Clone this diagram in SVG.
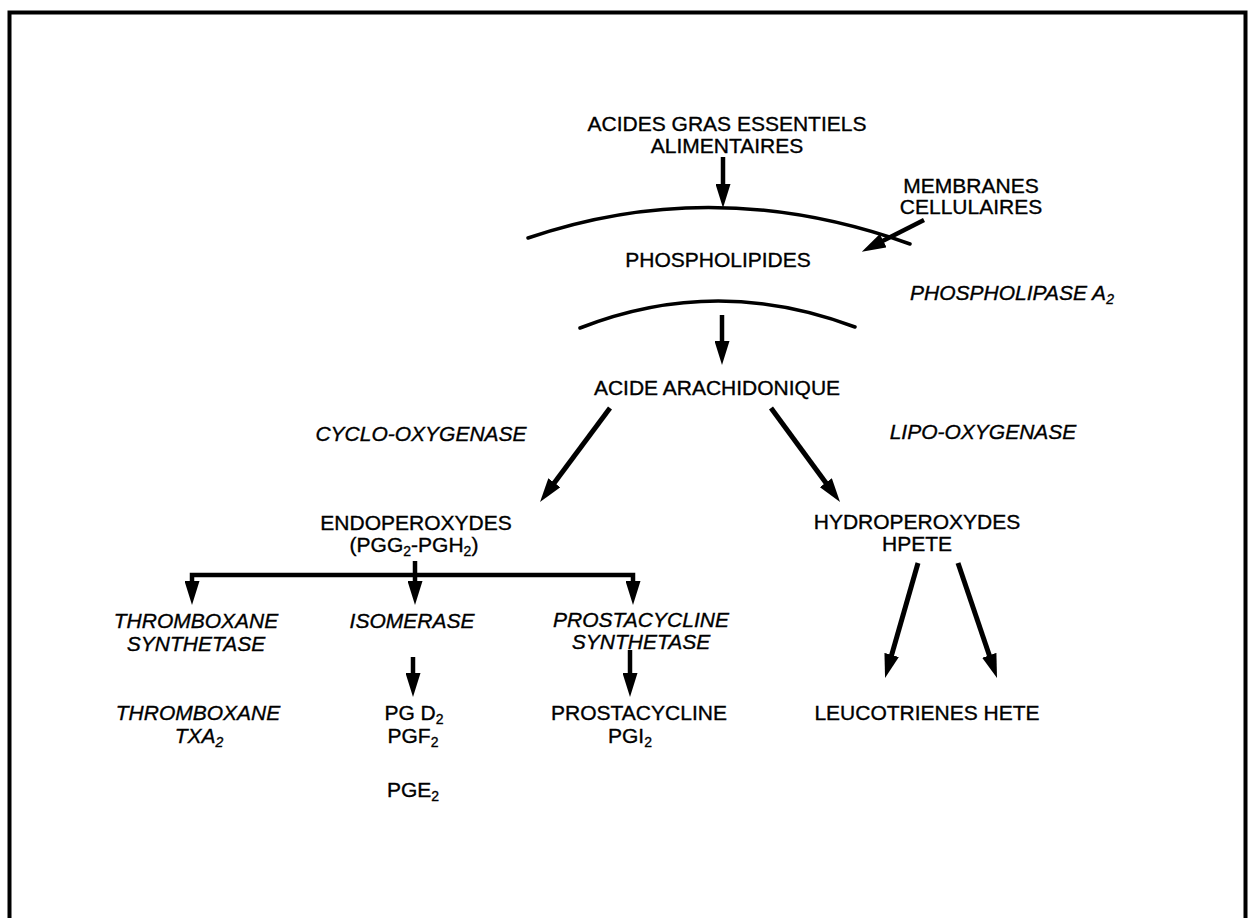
<svg xmlns="http://www.w3.org/2000/svg" width="1249" height="918" viewBox="0 0 1249 918">
<style>
text{font-family:"Liberation Sans",Arial,sans-serif;font-size:21px;fill:#000;stroke:#000;stroke-width:0.35;text-anchor:middle}
.it{font-style:italic}
.sub{font-size:14px}
.ln{fill:none;stroke:#000;stroke-width:4.5}
.dg{fill:none;stroke:#000;stroke-width:5}
.arc{fill:none;stroke:#000;stroke-width:3.5;stroke-linecap:round}
</style>
<defs>
<marker id="ah" viewBox="0 0 24 15" refX="14" refY="7.5" markerWidth="24" markerHeight="15" markerUnits="userSpaceOnUse" orient="auto-start-reverse">
<path d="M0,0 L24,7.5 L0,15 Z" fill="#000"/>
</marker>
</defs>
<rect width="1249" height="918" fill="#fff"/>
<path d="M9.5,925 V12.5 H1245.5 V925" fill="none" stroke="#000" stroke-width="4"/>

<g id="membranes-arcs">
<path class="arc" d="M528,238 Q715,174 910,244"/>
<path class="arc" d="M580,328 Q716.5,274.5 855,327"/>
</g>

<g id="connectors">
<line class="ln" x1="723" y1="157" x2="723" y2="198" marker-end="url(#ah)"/>
<line class="ln" x1="924" y1="220" x2="870.7" y2="247.1" marker-end="url(#ah)"/>
<line class="ln" x1="722" y1="315" x2="722" y2="355" marker-end="url(#ah)"/>
<line class="dg" x1="610" y1="408" x2="546" y2="494" marker-end="url(#ah)"/>
<line class="dg" x1="771" y1="408" x2="834.1" y2="493.9" marker-end="url(#ah)"/>
<path class="ln" d="M192,595 V575 H633 V595" marker-start="url(#ah)" marker-end="url(#ah)"/>
<line class="ln" x1="415" y1="561" x2="415" y2="595" marker-end="url(#ah)"/>
<line class="ln" x1="413" y1="657" x2="413" y2="687" marker-end="url(#ah)"/>
<line class="ln" x1="630" y1="650" x2="630" y2="687" marker-end="url(#ah)"/>
<line class="dg" x1="918" y1="563" x2="887.8" y2="668.4" marker-end="url(#ah)"/>
<line class="dg" x1="958" y1="563" x2="993.8" y2="668.5" marker-end="url(#ah)"/>
</g>

<g id="acides-gras">
<text x="727" y="131">ACIDES GRAS ESSENTIELS</text>
<text x="727" y="153">ALIMENTAIRES</text>
</g>
<g id="membranes-cellulaires">
<text x="971" y="193">MEMBRANES</text>
<text x="971" y="214">CELLULAIRES</text>
</g>
<g id="phospholipides">
<text x="718" y="267">PHOSPHOLIPIDES</text>
</g>
<g id="phospholipase">
<text class="it" x="1012" y="300">PHOSPHOLIPASE A<tspan class="sub" dy="4">2</tspan></text>
</g>
<g id="acide-arachidonique">
<text x="717" y="395">ACIDE ARACHIDONIQUE</text>
</g>
<g id="cyclo-oxygenase">
<text class="it" x="421" y="441">CYCLO-OXYGENASE</text>
</g>
<g id="lipo-oxygenase">
<text class="it" x="983" y="439">LIPO-OXYGENASE</text>
</g>
<g id="endoperoxydes">
<text x="416" y="530">ENDOPEROXYDES</text>
<text x="414" y="552">(PGG<tspan class="sub" dy="4">2</tspan><tspan dy="-4">-PGH</tspan><tspan class="sub" dy="4">2</tspan><tspan dy="-4">)</tspan></text>
</g>
<g id="hydroperoxydes">
<text x="917" y="529">HYDROPEROXYDES</text>
<text x="917" y="551">HPETE</text>
</g>
<g id="thromboxane-synthetase">
<text class="it" x="196" y="628">THROMBOXANE</text>
<text class="it" x="196" y="651">SYNTHETASE</text>
</g>
<g id="isomerase">
<text class="it" x="412" y="628">ISOMERASE</text>
</g>
<g id="prostacycline-synthetase">
<text class="it" x="641" y="627">PROSTACYCLINE</text>
<text class="it" x="641" y="649">SYNTHETASE</text>
</g>
<g id="thromboxane">
<text class="it" x="198" y="720">THROMBOXANE</text>
<text class="it" x="199" y="743">TXA<tspan class="sub" dy="4">2</tspan></text>
</g>
<g id="pg">
<text x="414" y="720">PG D<tspan class="sub" dy="4">2</tspan></text>
<text x="413" y="743">PGF<tspan class="sub" dy="4">2</tspan></text>
<text x="413" y="797">PGE<tspan class="sub" dy="4">2</tspan></text>
</g>
<g id="prostacycline">
<text x="639" y="720">PROSTACYCLINE</text>
<text x="630" y="743">PGI<tspan class="sub" dy="4">2</tspan></text>
</g>
<g id="leucotrienes">
<text x="927" y="720">LEUCOTRIENES HETE</text>
</g>
</svg>
